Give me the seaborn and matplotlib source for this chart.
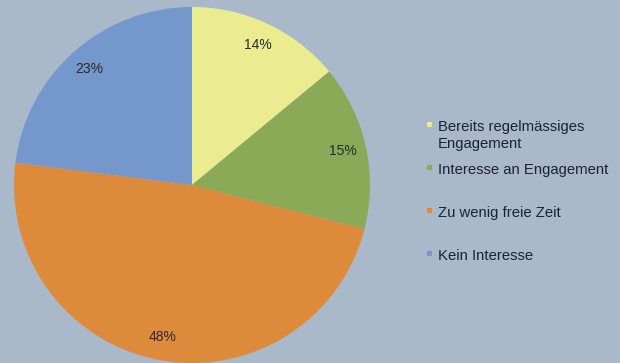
import matplotlib
matplotlib.use("Agg")
import matplotlib.pyplot as plt
import seaborn as sns
from matplotlib.patches import Rectangle

categories = ["Bereits regelmässiges\nEngagement", "Interesse an Engagement",
              "Zu wenig freie Zeit", "Kein Interesse"]
shares = [14, 15, 48, 23]
colors = ["#EAEC8F", "#8AAA58", "#DE8A3B", "#7497CC"]
bg = "#A9B9C9"

sns.set_style("white", {"axes.facecolor": bg, "figure.facecolor": bg})
plt.rcParams["font.family"] = ["Liberation Sans", "DejaVu Sans"]

W, H = 620, 363
fig = plt.figure(figsize=(W / 100, H / 100), dpi=100)
fig.patch.set_facecolor(bg)

# pie axes: centre (192,185) px, radius 178 px
cx, cy, r = 192, 185, 178
ax = fig.add_axes([(cx - r) / W, (H - cy - r) / H, 2 * r / W, 2 * r / H])
ax.set_facecolor(bg)
wedges, texts, autotexts = ax.pie(
    shares, colors=sns.color_palette(colors), startangle=90, counterclock=False,
    autopct="%d%%", pctdistance=0.87, radius=1,
    wedgeprops={"linewidth": 0},
    textprops={"fontsize": 10, "color": "#2a2a2a"},
)
ax.set_xlim(-1, 1)
ax.set_ylim(-1, 1)
ax.set_aspect("equal")
ax.axis("off")

# legend drawn by hand so the spacing matches the original
baselines = [131, 174, 217, 260]   # px from top, first line of each entry
line_gap = 17
for label, col, base in zip(categories, colors, baselines):
    fig.patches.append(Rectangle((427 / W, 1 - (base - 4) / H), 5 / W, 5 / H,
                                 transform=fig.transFigure, facecolor=col,
                                 edgecolor="none"))
    for i, line in enumerate(label.split("\n")):
        fig.text(438 / W, 1 - (base + i * line_gap) / H, line,
                 fontsize=10.7, color="#1c2233", va="baseline", ha="left")

fig.savefig("out.png", dpi=100, facecolor=bg)
